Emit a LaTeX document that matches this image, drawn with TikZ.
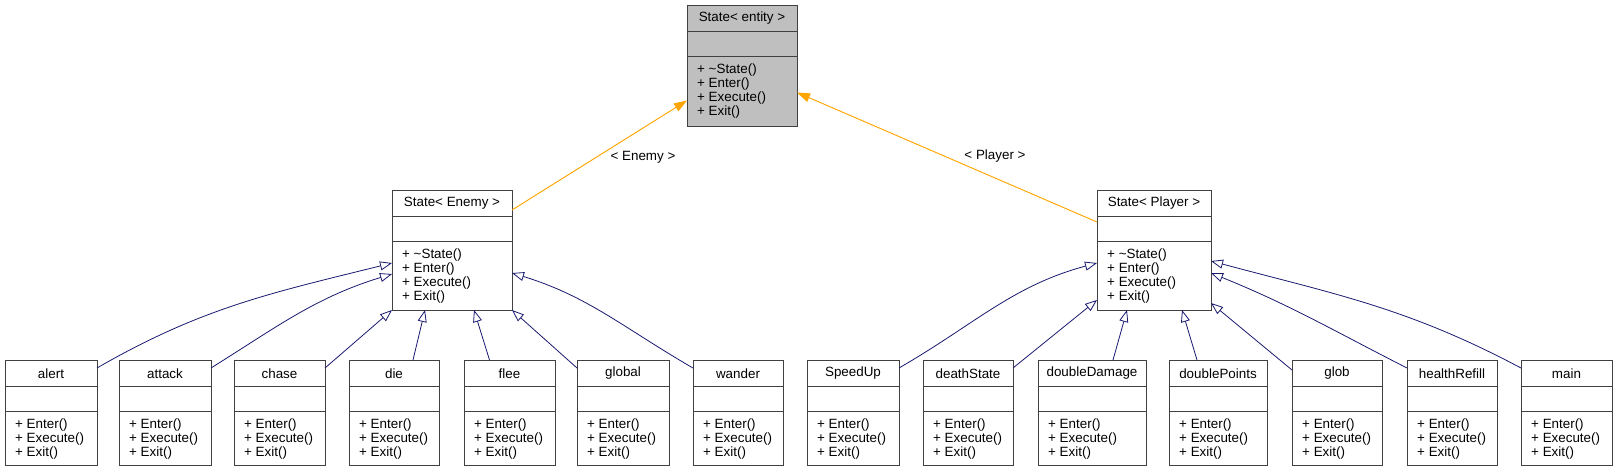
\documentclass[tikz,border=0pt]{standalone}
\usepackage{fontspec}
\setmainfont{Liberation Sans}
\usetikzlibrary{arrows.meta}
\definecolor{edgeblue}{HTML}{191970}
\definecolor{edgeorange}{HTML}{FFA500}
\definecolor{boxgray}{HTML}{BFBFBF}
\definecolor{boxline}{HTML}{404040}
\tikzset{
  classbox/.style={draw=boxline, line width=1pt, inner sep=0pt, outer sep=0pt},
  divider/.style={draw=boxline, line width=1pt},
  classtitle/.style={inner sep=0pt, font=\fontsize{13.4}{14}\selectfont},
  classops/.style={inner sep=0pt, anchor=north west, align=left, font=\fontsize{13.4}{13.9}\selectfont},
  edgelabel/.style={inner sep=0pt, font=\fontsize{13.4}{14}\selectfont},
  inherit/.style={draw=edgeblue, line width=0.8pt, -{Triangle[open,length=12pt,width=9pt]}},
  templ/.style={draw=edgeorange, line width=0.9pt, -{Triangle[length=13pt,width=9pt]}, fill=edgeorange}
}
\newcommand\umlclass[8]{%
  \node[classbox, fill=#6, minimum width={#3-#2}, minimum height={#5-#4}, anchor=north west] (#1) at (#2,#4) {};
  \draw[divider] ([yshift=-26pt]#1.north west) -- ([yshift=-26pt]#1.north east);
  \draw[divider] ([yshift=-51pt]#1.north west) -- ([yshift=-51pt]#1.north east);
  \node[classtitle] (#1-title) at ([yshift=-13.5pt]#1.north) {#7};
  \node[classops] (#1-ops) at ([xshift=10pt,yshift=-58.5pt]#1.north west) {#8};
}
\newcommand\leafops{+ Enter()\\+ Execute()\\+ Exit()}
\newcommand\baseops{+ \textasciitilde State()\\+ Enter()\\+ Execute()\\+ Exit()}
\begin{document}
\begin{tikzpicture}[x=1pt,y=-1pt]
\useasboundingbox (0,0) rectangle (1617,472);
% top and base classes
\umlclass{top}{687}{797}{5}{126}{boxgray}{State< entity >}{\baseops}
\umlclass{enemy}{392}{512}{190}{310}{white}{State< Enemy >}{\baseops}
\umlclass{player}{1097}{1211}{190}{310}{white}{State< Player >}{\baseops}
% leaf classes
\umlclass{alert}{5}{97}{360}{465}{white}{alert}{\leafops}
\umlclass{attack}{119}{211}{360}{465}{white}{attack}{\leafops}
\umlclass{chase}{234}{325}{360}{465}{white}{chase}{\leafops}
\umlclass{die}{349}{439}{360}{465}{white}{die}{\leafops}
\umlclass{flee}{464}{555}{360}{465}{white}{flee}{\leafops}
\umlclass{global}{577}{669}{360}{465}{white}{global}{\leafops}
\umlclass{wander}{693}{783}{360}{465}{white}{wander}{\leafops}
\umlclass{SpeedUp}{807}{899}{360}{465}{white}{SpeedUp}{\leafops}
\umlclass{deathState}{923}{1013}{360}{465}{white}{deathState}{\leafops}
\umlclass{doubleDamage}{1038}{1146}{360}{465}{white}{doubleDamage}{\leafops}
\umlclass{doublePoints}{1169}{1267}{360}{465}{white}{doublePoints}{\leafops}
\umlclass{glob}{1292}{1382}{360}{465}{white}{glob}{\leafops}
\umlclass{healthRefill}{1407}{1497}{360}{465}{white}{healthRefill}{\leafops}
\umlclass{main}{1521}{1612}{360}{465}{white}{main}{\leafops}
% template instantiation edges
\draw[templ] ([yshift=40pt]enemy.east) -- ([yshift=-35pt]top.west);
\draw[templ] ([yshift=28pt]player.west) -- ([yshift=-27pt]top.east);
\node[edgelabel] (lblEnemy) at (643,157) {< Enemy >};
\node[edgelabel] (lblPlayer) at (995,156) {< Player >};
% inheritance: Enemy
\draw[inherit] ([yshift=-8pt]alert.north east) to[out=30,in=194] ([yshift=-13pt]enemy.west);
\draw[inherit] ([yshift=-8pt]attack.north east) to[out=32,in=197] ([yshift=-24pt]enemy.west);
\draw[inherit] ([yshift=-8pt]chase.north east) -- (enemy.south west);
\draw[inherit] ([xshift=19pt]die.north) -- ([xshift=-27pt]enemy.south);
\draw[inherit] ([xshift=-20pt]flee.north) -- ([xshift=22pt]enemy.south);
\draw[inherit] ([yshift=-8pt]global.north west) -- (enemy.south east);
\draw[inherit] ([yshift=-8pt]wander.north west) to[out=150,in=-17] ([yshift=-23pt]enemy.east);
% inheritance: Player
\draw[inherit] ([yshift=-8pt]SpeedUp.north east) to[out=30,in=195] ([yshift=-13pt]player.west);
\draw[inherit] ([yshift=-8pt]deathState.north east) -- ([yshift=10pt]player.south west);
\draw[inherit] ([xshift=21pt]doubleDamage.north) -- ([xshift=-27pt]player.south);
\draw[inherit] ([xshift=-21pt]doublePoints.north) -- ([xshift=28pt]player.south);
\draw[inherit] ([yshift=-10pt]glob.north west) -- ([yshift=7pt]player.south east);
\draw[inherit] ([yshift=-8pt]healthRefill.north west) to[out=153,in=-22] ([yshift=-23pt]player.east);
\draw[inherit] ([yshift=-8pt]main.north west) to[out=152,in=-15] ([yshift=-11pt]player.east);
\end{tikzpicture}
\end{document}
